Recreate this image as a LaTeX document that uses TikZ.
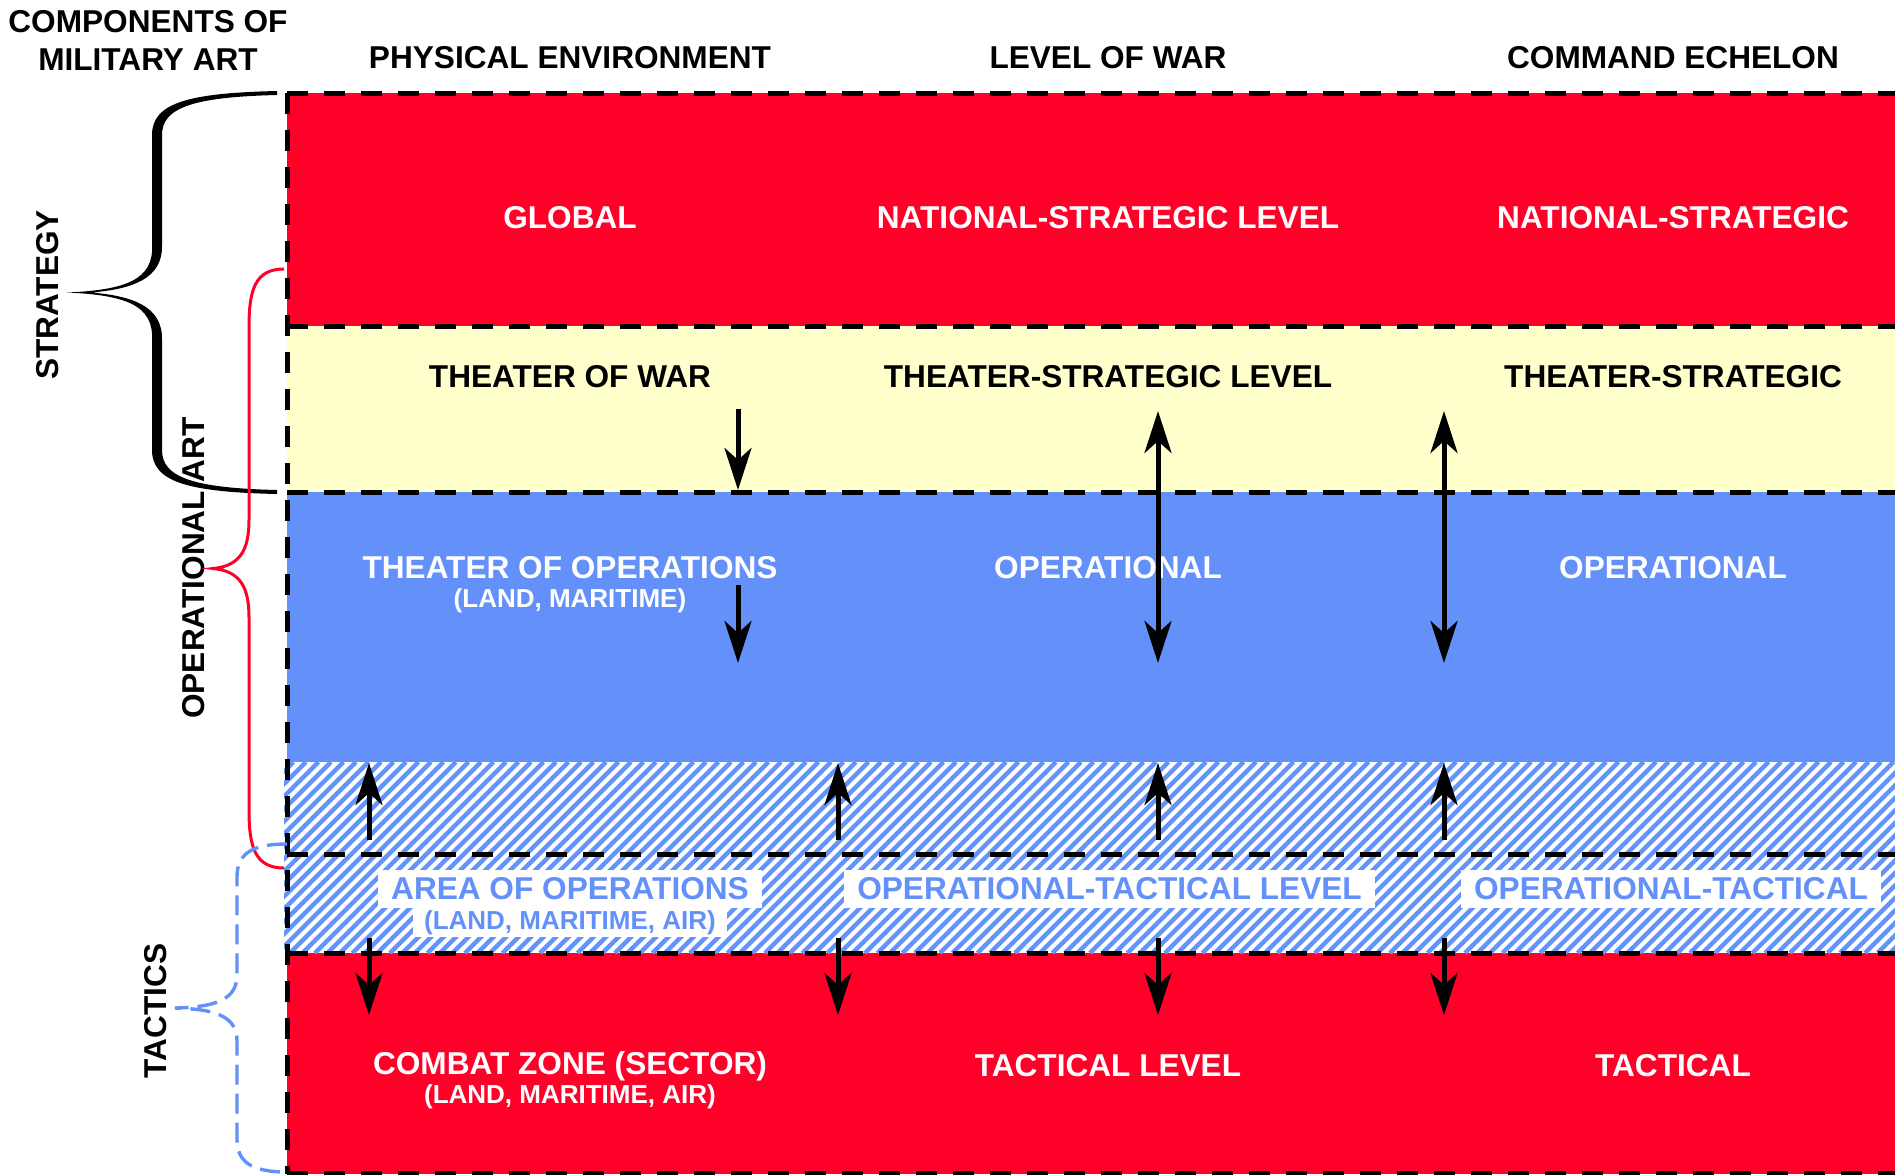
\documentclass[tikz,border=0pt]{standalone}
\usepackage{fontspec}
\setmainfont{Liberation Sans}
\usetikzlibrary{arrows.meta}
\definecolor{bandred}{RGB}{255,0,41}
\definecolor{bandyellow}{RGB}{255,255,204}
\definecolor{bandblue}{RGB}{99,145,249}
\definecolor{hatchblue}{RGB}{100,148,250}
\begin{document}
\begin{tikzpicture}[x=0.5pt,y=-0.5pt,
  lbl/.style={font=\fontsize{15.8}{19}\selectfont\bfseries, inner sep=0pt},
  sublbl/.style={font=\fontsize{13}{15}\selectfont\bfseries, inner sep=0pt},
  wlbl/.style={lbl, text=white},
  wsub/.style={sublbl, text=white},
  klbl/.style={lbl, text=black},
  boxlbl/.style={lbl, text=bandblue, fill=white, inner xsep=6.5pt, minimum height=19pt},
  boxsub/.style={sublbl, text=bandblue, fill=white, inner xsep=5.5pt, minimum height=14.5pt},
  border/.style={line width=2.5pt, dash pattern=on 10.5pt off 8pt},
  flow/.style={line width=2.5pt, -{Stealth[length=21pt,width=13.5pt,inset=6pt]}},
  flowtwo/.style={line width=2.5pt, {Stealth[length=21pt,width=13.5pt,inset=6pt]}-{Stealth[length=21pt,width=13.5pt,inset=6pt]}},
]
\useasboundingbox (0,0) rectangle (1895,1174);
% bands
\fill[bandred] (287,93) rectangle (1895,326);
\fill[bandyellow] (287,326) rectangle (1895,492);
\fill[bandblue] (287,492) rectangle (1895,762);
\fill[bandred] (287,953) rectangle (1895,1174);
\begin{scope}
  \clip (284,762) rectangle (1895,953);
  \fill[white] (284,762) rectangle (1895,953);
  \foreach \i in {90,102.5,...,1900} \draw[hatchblue, line width=2.2pt] (\i,953) -- ++(191,-191);
\end{scope}
% dashed borders
\foreach \yy in {93,326,492,854,953,1173} \draw[border] (287,\yy) -- (1895,\yy);
\draw[border] (287,93) -- (287,1174);
% headers
\node[klbl] (comp1) at (148,22) {COMPONENTS OF};
\node[klbl] (comp2) at (148,60) {MILITARY ART};
\node[klbl] (hphys) at (570,58) {PHYSICAL ENVIRONMENT};
\node[klbl] (hlevel) at (1108,58) {LEVEL OF WAR};
\node[klbl] (hcmd) at (1673,58) {COMMAND ECHELON};
% row 1
\node[wlbl] (global) at (570,218) {GLOBAL};
\node[wlbl] (nslevel) at (1108,218) {NATIONAL-STRATEGIC LEVEL};
\node[wlbl] (nscmd) at (1673,218) {NATIONAL-STRATEGIC};
% row 2
\node[klbl] (tow) at (570,377) {THEATER OF WAR};
\node[klbl] (tslevel) at (1108,377) {THEATER-STRATEGIC LEVEL};
\node[klbl] (tscmd) at (1673,377) {THEATER-STRATEGIC};
% row 3
\node[wlbl] (too) at (570,568) {THEATER OF OPERATIONS};
\node[wsub] (toosub) at (570,601) {(LAND, MARITIME)};
\node[wlbl] (oplevel) at (1108,568) {OPERATIONAL};
\node[wlbl] (opcmd) at (1673,568) {OPERATIONAL};
% row 4
\node[boxlbl] (aoo) at (570,889) {AREA OF OPERATIONS};
\node[boxsub] (aoosub) at (570,922.5) {(LAND, MARITIME, AIR)};
\node[boxlbl] (otlevel) at (1109.5,889) {OPERATIONAL-TACTICAL LEVEL};
\node[boxlbl] (otcmd) at (1671,889) {OPERATIONAL-TACTICAL};
% row 5
\node[wlbl] (cz) at (570,1066) {COMBAT ZONE (SECTOR)};
\node[wsub] (czsub) at (570,1097) {(LAND, MARITIME, AIR)};
\node[wlbl] (taclevel) at (1108,1066) {TACTICAL LEVEL};
\node[wlbl] (taccmd) at (1673,1066) {TACTICAL};
% side labels
\node[klbl, rotate=90] (strategy) at (48,295) {STRATEGY};
\node[klbl, rotate=90] (opart) at (194,568) {OPERATIONAL ART};
\node[klbl, rotate=90] (tactics) at (156,1011) {TACTICS};
% arrow end points
\coordinate (a1s) at (738,409); \coordinate (a1e) at (738,490);
\coordinate (a2s) at (738,585); \coordinate (a2e) at (738,663);
\coordinate (a3s) at (1158,411); \coordinate (a3e) at (1158,663);
\coordinate (a4s) at (1444,411); \coordinate (a4e) at (1444,663);
\draw[flow] (a1s) -- (a1e);
\draw[flow] (a2s) -- (a2e);
\draw[flowtwo] (a3s) -- (a3e);
\draw[flowtwo] (a4s) -- (a4e);
\foreach \xx/\nm in {369/p,838/q,1158/r,1444/s} {
  \coordinate (up\nm s) at (\xx,840); \coordinate (up\nm e) at (\xx,763);
  \coordinate (dn\nm s) at (\xx,938); \coordinate (dn\nm e) at (\xx,1015);
  \draw[flow] (up\nm s) -- (up\nm e);
  \draw[flow] (dn\nm s) -- (dn\nm e);
}
% strategy brace (black, calligraphic)
\fill[black] (277,91) .. controls (188,93) and (152,103) .. (152,135) -- (152,245)
  .. controls (154,280) and (125,290) .. (67,292.5)
  .. controls (125,295) and (154,305) .. (152,340) -- (152,450)
  .. controls (152,482) and (188,492) .. (277,494) -- (277,490)
  .. controls (192,488) and (162,477) .. (162,450) -- (162,340)
  .. controls (163,305) and (130,296) .. (92,292.5)
  .. controls (130,289) and (163,280) .. (162,245) -- (162,135)
  .. controls (162,108) and (192,97) .. (277,95) -- cycle;
% operational art brace (red)
\draw[bandred, line width=1.5pt] (284,269) .. controls (255,269) and (249,290) .. (249,327) -- (249,520)
  .. controls (249,550) and (240,566) .. (213,568.5)
  .. controls (240,571) and (249,587) .. (249,617) -- (249,810)
  .. controls (249,847) and (255,868) .. (284,868);
% tactics brace (blue dashed)
\draw[bandblue, line width=1.7pt, dash pattern=on 10pt off 4.5pt] (287,844) .. controls (250,844) and (237,855) .. (237,877) -- (237,975)
  .. controls (237,1000) and (215,1007) .. (175,1008)
  .. controls (215,1009) and (237,1016) .. (237,1041) -- (237,1139)
  .. controls (237,1161) and (250,1172) .. (287,1172);
\end{tikzpicture}
\end{document}
